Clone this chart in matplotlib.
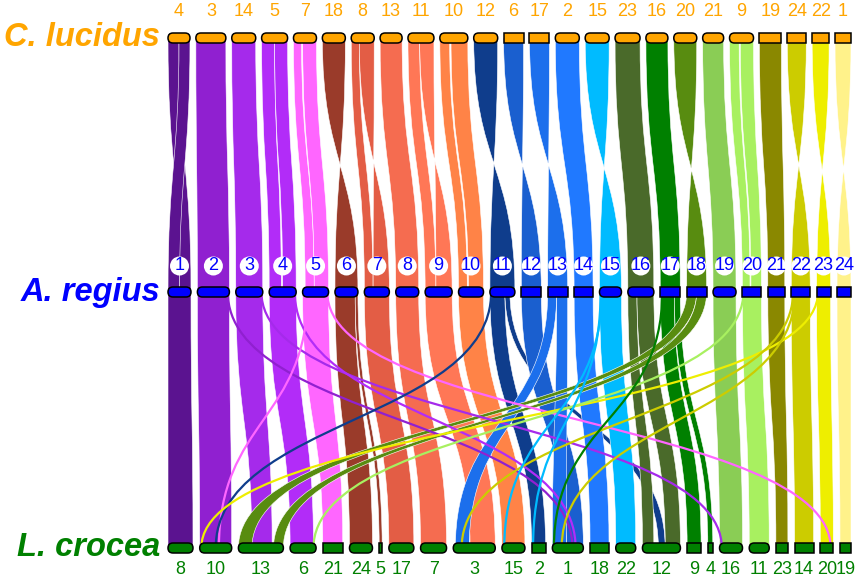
import matplotlib.pyplot as plt
from matplotlib.path import Path
from matplotlib.patches import PathPatch, FancyBboxPatch, Rectangle, Circle

# chromosome names (left to right) and relative lengths for each genome
top_names = ['4', '3', '14', '5', '7', '18', '8', '13', '11', '10', '12', '6',
             '17', '2', '15', '23', '16', '20', '21', '9', '19', '24', '22', '1']
top_len = [22, 30, 24, 26, 23, 23, 23, 22, 26, 28, 24, 20,
           20, 24, 24, 25, 22, 23, 21, 24, 22, 19, 17, 16]

mid_names = [str(i) for i in range(1, 25)]
mid_len = [23, 32, 27, 27, 26, 23, 25, 23, 27, 25, 25, 20,
           20, 19, 22, 26, 20, 20, 23, 19, 17, 19, 14, 14]

bot_names = ['8', '10', '13', '6', '21', '24', '5', '17', '7', '3', '15', '2',
             '1', '18', '22', '12', '9', '4', '16', '11', '23', '14', '20', '19']
bot_len = [25, 32, 45, 26, 20, 23, 3, 25, 26, 42, 23, 14,
           31, 19, 20, 38, 14, 5, 23, 20, 12, 19, 13, 11]

species = ['C. lucidus', 'A. regius', 'L. crocea']

# one colour per A. regius chromosome
mid_colors = ['#5b1390', '#9020d0', '#a52aeb', '#b22cf8', '#ff66ff', '#9a3b2a',
              '#e35d45', '#f56c50', '#ff7756', '#ff8347', '#0f3d8c', '#1a5fcf',
              '#1c6fec', '#2079ff', '#00bbff', '#4a6a2a', '#008000', '#588c10',
              '#8acd55', '#a8f060', '#8a8800', '#cccc00', '#eeee00', '#fff28a']

# C. lucidus (position i) <-> A. regius chr i : blocks (top f0, f1, mid f0, f1)
top_blocks = {
    1: [(0, .5, .5, 1), (.5, 1, 0, .5)],
    2: [(0, 1, 0, 1)],
    3: [(0, 1, 0, 1)],
    4: [(0, .5, 0, .45), (.5, 1, .5, 1)],
    5: [(0, .35, .1, .45), (.4, 1, .45, 1)],
    6: [(0, 1, 1, 0)],
    7: [(0, .35, 0, .35), (.35, 1, 1, .35)],
    8: [(0, 1, 0, 1)],
    9: [(0, .45, 0, .4), (.45, 1, 1, .4)],
    10: [(0, .35, 0, .35), (.4, 1, .4, 1)],
    11: [(0, 1, 1, 0)],
    12: [(0, 1, 1, 0)],
    13: [(0, 1, 1, 0)],
    14: [(0, 1, 0, 1)],
    15: [(0, 1, 1, 0)],
    16: [(0, 1, 0, 1)],
    17: [(0, 1, 0, 1)],
    18: [(0, 1, 1, 0)],
    19: [(0, 1, 0, 1)],
    20: [(0, .4, 0, .4), (.45, 1, .45, 1)],
    21: [(0, 1, 0, 1)],
    22: [(0, 1, 1, 0)],
    23: [(0, 1, 1, 0)],
    24: [(0, 1, 1, 0)],
}

# A. regius -> L. crocea blocks: (mid chr, m0, m1, bottom chr, b0, b1)
bot_blocks = [
    (1, 0, 1, '8', 0, 1),
    (2, 0, 1, '10', 0, 1),
    (3, 0, 1, '13', .3, .75),
    (4, 0, 1, '6', 0, .9),
    (5, 0, 1, '21', 0, 1),
    (6, 0, .88, '24', 0, 1),
    (6, .88, 1, '5', 0, 1),
    (7, 0, 1, '17', 0, 1),
    (8, 0, 1, '7', 0, 1),
    (9, 0, 1, '3', .4, 1),
    (10, 0, 1, '15', 0, 1),
    (11, 0, .6, '2', 0, 1),
    (11, .6, .8, '12', .42, .6),
    (12, 0, 1, '1', .45, 1),
    (13, 0, .45, '3', .05, .38),
    (13, .45, 1, '1', 0, .45),
    (14, 0, 1, '18', 0, 1),
    (15, 0, 1, '22', 0, 1),
    (16, 0, .35, '12', 0, .3),
    (16, .35, 1, '12', .6, 1),
    (17, 0, .7, '9', 0, 1),
    (17, .7, 1, '4', 0, 1),
    (18, 0, .5, '13', 0, .3),
    (18, .5, 1, '13', .78, 1),
    (19, 0, 1, '16', 0, 1),
    (20, 0, 1, '11', 0, 1),
    (21, 0, 1, '23', 0, 1),
    (22, 0, 1, '14', 0, 1),
    (23, 0, 1, '20', 0, 1),
    (24, 0, 1, '19', 0, 1),
]

# small blocks drawn as thin lines: (mid chr, m frac, bottom chr, b frac)
thin_links = [
    (2, .95, '1', .65),
    (3, .95, '16', .1),
    (4, .95, '1', .75),
    (5, .95, '20', .8),
    (5, .2, '10', .6),
    (11, .05, '10', .5),
    (23, .1, '10', .05),
    (22, .1, '3', .2),
    (22, .2, '1', .3),
    (20, .05, '6', .9),
    (17, .1, '1', .05),
    (15, .05, '2', .1),
    (15, .1, '15', .1),
]

# layout
X0, X1 = 168, 851
Y_TOP, Y_MID, Y_BOT = 38, 292, 548
BAR_H = 10
top_square = {'6', '17', '19', '24', '22', '1'}
mid_square = {'12', '13', '14', '17', '18', '20', '21', '22', '23', '24'}
bot_square = {'21', '5', '2', '18', '9', '4', '23', '14', '20', '19'}


def place(lengths):
    gap = (X1 - X0 - sum(lengths)) / (len(lengths) - 1)
    out, x = [], X0
    for L in lengths:
        out.append((x, x + L))
        x += L + gap
    return out


top_pos = place(top_len)
mid_pos = dict(zip(mid_names, place(mid_len)))
bot_pos = dict(zip(bot_names, place(bot_len)))


def at(span, f):
    return span[0] + f * (span[1] - span[0])


def ribbon(ax, a0, a1, ya, b0, b1, yb, color):
    ym = (ya + yb) / 2
    verts = [(a0, ya), (a0, ym), (b0, ym), (b0, yb), (b1, yb),
             (b1, ym), (a1, ym), (a1, ya), (a0, ya)]
    codes = [Path.MOVETO, Path.CURVE4, Path.CURVE4, Path.CURVE4, Path.LINETO,
             Path.CURVE4, Path.CURVE4, Path.CURVE4, Path.CLOSEPOLY]
    ax.add_patch(PathPatch(Path(verts, codes), facecolor=color,
                           edgecolor='white', lw=0.4, zorder=1))


def link_line(ax, a, ya, b, yb, color):
    ym = (ya + yb) / 2
    verts = [(a, ya), (a, ym), (b, ym), (b, yb)]
    codes = [Path.MOVETO, Path.CURVE4, Path.CURVE4, Path.CURVE4]
    ax.add_patch(PathPatch(Path(verts, codes), facecolor='none',
                           edgecolor=color, lw=1.6, zorder=2))


def bar(ax, x0, x1, y, square, face):
    w = x1 - x0
    if square:
        p = Rectangle((x0, y - BAR_H / 2), w, BAR_H)
    else:
        r = min(BAR_H / 2, w / 2)
        p = FancyBboxPatch((x0, y - BAR_H / 2), w, BAR_H,
                           boxstyle=f'round,pad=0,rounding_size={r}')
    p.set_facecolor(face)
    p.set_edgecolor('black')
    p.set_linewidth(1.1)
    p.set_zorder(4)
    ax.add_patch(p)


fig = plt.figure(figsize=(8.65, 5.8), dpi=100)
ax = fig.add_axes([0, 0, 1, 1])
ax.set_xlim(0, 865)
ax.set_ylim(580, 0)
ax.axis('off')

# top <-> middle ribbons
for i, name in enumerate(mid_names):
    tspan, mspan = top_pos[i], mid_pos[name]
    for t0, t1, m0, m1 in top_blocks[i + 1]:
        ribbon(ax, at(tspan, t0), at(tspan, t1), Y_TOP,
               at(mspan, m0), at(mspan, m1), Y_MID, mid_colors[i])

# middle <-> bottom ribbons
for m, m0, m1, b, b0, b1 in bot_blocks:
    mspan, bspan = mid_pos[str(m)], bot_pos[b]
    ribbon(ax, at(mspan, m0), at(mspan, m1), Y_MID,
           at(bspan, b0), at(bspan, b1), Y_BOT, mid_colors[m - 1])

for m, mf, b, bf in thin_links:
    link_line(ax, at(mid_pos[str(m)], mf), Y_MID,
              at(bot_pos[b], bf), Y_BOT, mid_colors[m - 1])

# chromosome bars and labels
for name, (x0, x1) in zip(top_names, top_pos):
    bar(ax, x0, x1, Y_TOP, name in top_square, '#ffa500')
    ax.text((x0 + x1) / 2, 11, name, ha='center', va='center',
            fontsize=13, color='#ffa500', family='Liberation Sans')

for name in mid_names:
    x0, x1 = mid_pos[name]
    bar(ax, x0, x1, Y_MID, name in mid_square, '#0000ff')
    xc = (x0 + x1) / 2
    ax.add_patch(Circle((xc, 266), 9.5, facecolor='white', edgecolor='none', zorder=3))
    ax.text(xc, 266, name, ha='center', va='center', fontsize=13,
            color='#0000ff', family='Liberation Sans', zorder=5)

for name in bot_names:
    x0, x1 = bot_pos[name]
    bar(ax, x0, x1, Y_BOT, name in bot_square, '#008000')
    ax.text((x0 + x1) / 2, 570, name, ha='center', va='center',
            fontsize=13, color='#008000', family='Liberation Sans')

for label, y, c in zip(species, [Y_TOP, Y_MID, Y_BOT], ['#ffa500', '#0000ff', '#008000']):
    ax.text(160, y, label, ha='right', va='center', fontsize=23.5, color=c,
            fontweight='bold', fontstyle='italic', family='Liberation Sans')

fig.savefig('out.png', dpi=100)
